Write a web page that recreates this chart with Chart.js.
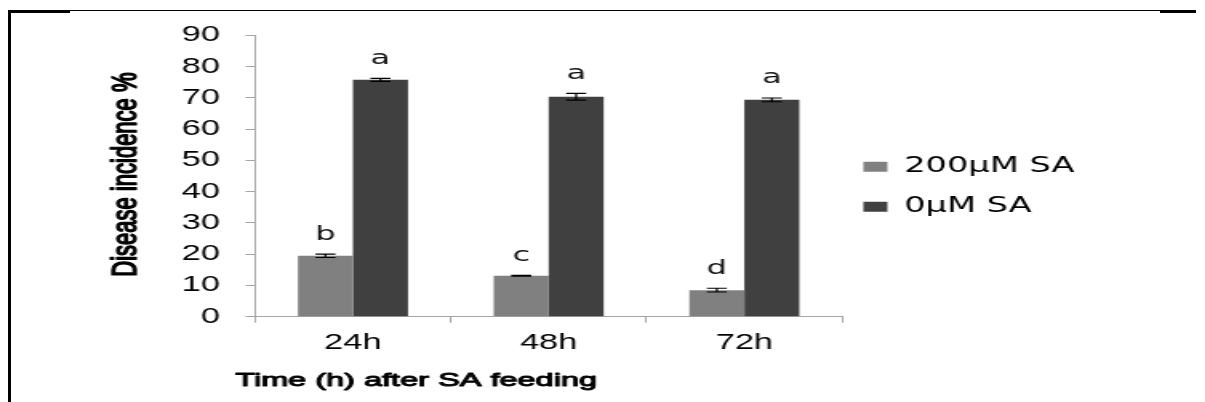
<!DOCTYPE html>
<html>
<head>
<meta charset="utf-8">
<script src="https://cdn.jsdelivr.net/npm/chart.js@4.4.1/dist/chart.umd.min.js"></script>
<style>
  html, body { margin: 0; padding: 0; background: #fff; }
  body { width: 1205px; height: 402px; position: relative; overflow: hidden; }
  /* chart drawn on a narrower canvas and widened horizontally */
  #wrap { position: absolute; left: 0; top: 0; width: 753px; height: 402px;
          transform: scaleX(1.6003984); transform-origin: 0 0; }
  .rule { position: absolute; background: #000; }
</style>
</head>
<body>
<div id="wrap"><canvas id="chart" width="753" height="402"></canvas></div>
<div class="rule" style="left:8px;top:10px;width:3px;height:392px"></div>
<div class="rule" style="left:8px;top:10px;width:62px;height:3px"></div>
<div class="rule" style="left:70px;top:10px;width:1090px;height:1px"></div>
<div class="rule" style="left:1160px;top:10px;width:36px;height:3px"></div>
<script>
// Disease incidence (%) at each sampling time
const timeLabels = ['24h', '48h', '72h'];
const sa200 = [19.5, 13.1, 8.5];
const sa200Err = [0.55, 0.15, 0.6];
const sa0 = [75.8, 70.4, 69.4];
const sa0Err = [0.5, 1.1, 0.6];
const sa200Letters = ['b', 'c', 'd'];
const sa0Letters = ['a', 'a', 'a'];
const seriesNames = ['200\u03bcM SA', '0\u03bcM SA'];
const xTitle = 'Time (h) after SA feeding';
const yTitle = 'Disease incidence %';

const W = 753;
const plotLeft = 159.4, plotRight = 526.25, plotTop = 35.5, plotBottom = 316.7;
const sansFamily = 'Liberation Sans, Arial, sans-serif';
const sansCss = '"Liberation Sans", Arial, sans-serif';
Chart.defaults.font.family = sansFamily;

// legend sizing so that the plot ends where the legend begins
const legendFontSize = 21, legendPad = 19, legendBoxW = 15, legendBoxH = 10;
const mctx = document.createElement('canvas').getContext('2d');
mctx.font = legendFontSize + 'px "DejaVu Sans"';
const legendTextW = Math.max(...seriesNames.map(t => mctx.measureText(t).width));
const legendW = legendPad + legendBoxW + legendFontSize / 2 + legendTextW + 10;
const padRight = Math.max(0, W - plotRight - legendW);
const legendGap = 13.2, legendShiftY = -32;

// heavy text: fill plus a thin outline of the same colour, fitted to a given length
function heavyText(ctx, text, size, stroke, length) {
  ctx.font = size + 'px ' + sansCss;
  const w = ctx.measureText(text).width;
  if (length && w > 0) ctx.scale(length / w, 1);
  ctx.fillStyle = '#000';
  ctx.strokeStyle = '#000';
  ctx.lineWidth = stroke;
  ctx.lineJoin = 'round';
  ctx.strokeText(text, 0, 0);
  ctx.fillText(text, 0, 0);
}

const decorations = {
  id: 'decorations',
  afterLayout(chart) {
    // place the legend just right of the plot, beside the upper half
    const lg = chart.legend;
    if (!lg) return;
    const dx = (chart.chartArea.right + legendGap) - (lg.left + legendPad);
    lg.left += dx; lg.right += dx;
    lg.top += legendShiftY; lg.bottom += legendShiftY;
  },
  afterDatasetsDraw(chart) {
    // error bars and significance letters
    const ctx = chart.ctx;
    const y = chart.scales.y;
    const errs = [sa200Err, sa0Err];
    const letters = [sa200Letters, sa0Letters];
    ctx.save();
    chart.data.datasets.forEach((ds, di) => {
      const meta = chart.getDatasetMeta(di);
      meta.data.forEach((bar, i) => {
        const v = ds.data[i], e = errs[di][i];
        const yHi = y.getPixelForValue(v + e), yLo = y.getPixelForValue(v - e);
        const cx = bar.x, half = 6.25;
        ctx.strokeStyle = '#000';
        ctx.lineWidth = 1.2;
        ctx.beginPath();
        ctx.moveTo(cx, yHi); ctx.lineTo(cx, yLo);
        ctx.moveTo(cx - half, yHi); ctx.lineTo(cx + half, yHi);
        ctx.moveTo(cx - half, yLo); ctx.lineTo(cx + half, yLo);
        ctx.stroke();
        ctx.fillStyle = '#111';
        ctx.font = '20px "DejaVu Sans"';
        ctx.textAlign = 'center';
        ctx.textBaseline = 'alphabetic';
        ctx.fillText(letters[di][i], cx, yHi - 14.5);
      });
    });
    ctx.restore();
  },
  afterDraw(chart) {
    // axis titles
    const ctx = chart.ctx;
    const area = chart.chartArea;
    ctx.save();
    ctx.textBaseline = 'middle';
    ctx.textAlign = 'left';
    ctx.translate(area.left - 12.4, area.bottom + 63.8);
    heavyText(ctx, xTitle, 19, 1, 226);
    ctx.restore();

    ctx.save();
    ctx.textBaseline = 'middle';
    ctx.textAlign = 'center';
    ctx.translate(area.left - 80, (area.top + area.bottom) / 2 - 1.5);
    ctx.rotate(-Math.PI / 2);
    heavyText(ctx, yTitle, 22, 1.2, 0);
    ctx.restore();
  }
};

new Chart(document.getElementById('chart'), {
  type: 'bar',
  data: {
    labels: timeLabels,
    datasets: [
      { label: seriesNames[0], data: sa200, backgroundColor: '#808080', borderWidth: 0,
        barPercentage: 1, categoryPercentage: 0.562 },
      { label: seriesNames[1], data: sa0, backgroundColor: '#404040', borderWidth: 0,
        barPercentage: 1, categoryPercentage: 0.562 }
    ]
  },
  options: {
    responsive: false,
    animation: false,
    devicePixelRatio: 1,
    layout: { padding: { left: 0, top: plotTop, right: padRight, bottom: 0 } },
    plugins: {
      tooltip: { enabled: false },
      legend: {
        position: 'right',
        align: 'center',
        labels: {
          boxWidth: legendBoxW, boxHeight: legendBoxH, padding: legendPad,
          color: '#000',
          font: { family: 'DejaVu Sans', size: legendFontSize }
        }
      }
    },
    scales: {
      x: {
        grid: { display: true, drawOnChartArea: false, drawTicks: true, tickLength: 6,
                color: '#a6a6a6', offset: true },
        border: { display: true, color: '#a6a6a6', width: 1 },
        ticks: { color: '#000', padding: 7,
                 font: { family: sansFamily, size: 21.5 } },
        afterFit(s) { s.height = 402 - plotBottom; }
      },
      y: {
        min: 0, max: 90,
        ticks: { stepSize: 10, color: '#000', padding: 16,
                 font: { family: sansFamily, size: 21.5 } },
        grid: { display: true, drawOnChartArea: false, drawTicks: true, tickLength: 6,
                color: '#a6a6a6' },
        border: { display: true, color: '#a6a6a6', width: 1 },
        afterFit(s) { s.width = plotLeft; }
      }
    }
  },
  plugins: [decorations]
});
</script>
</body>
</html>
